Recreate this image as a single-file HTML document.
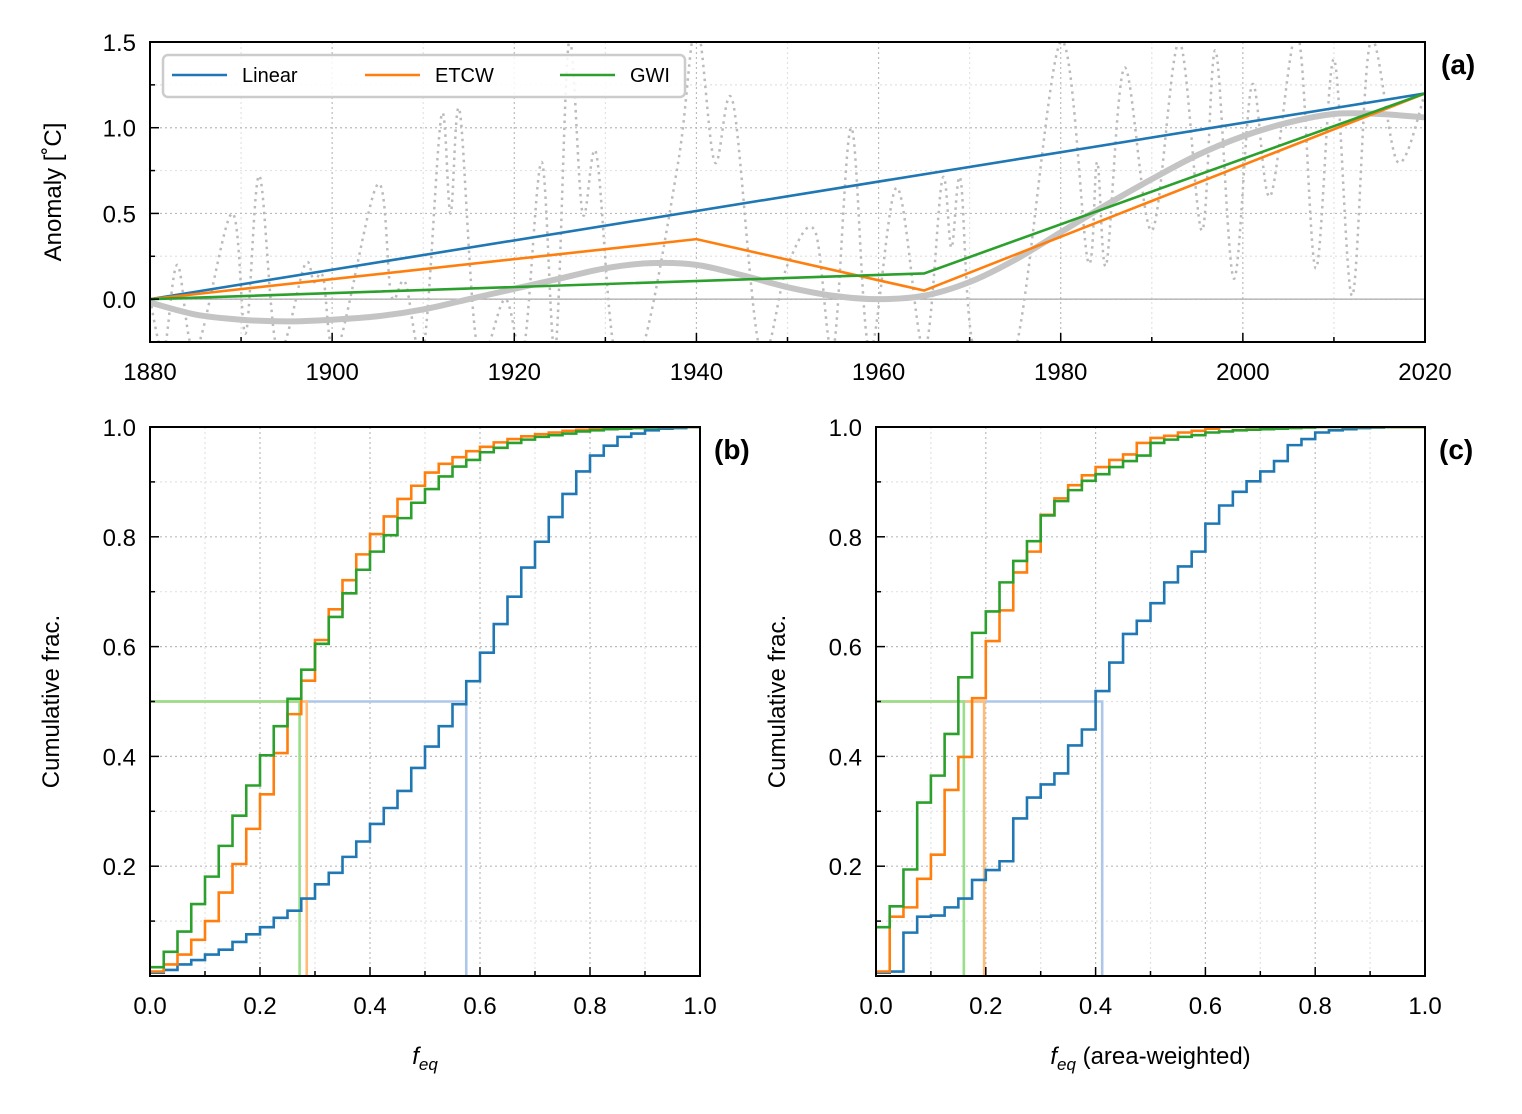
<!DOCTYPE html>
<html><head><meta charset="utf-8"><style>
html,body{margin:0;padding:0;background:#fff}
svg text{font-family:"Liberation Sans",Arial,sans-serif;fill:#000}
</style></head><body>
<svg id="fig" xmlns="http://www.w3.org/2000/svg" width="1522" height="1109" viewBox="0 0 1522 1109"></svg>
<script>
// ---------- DATA ----------
const linYears=[1880,2020], linVals=[0,1.2];
const etcwYears=[1880,1940,1965,2020], etcwVals=[0,0.35,0.05,1.2];
const gwiYears=[1880,1965,2020], gwiVals=[0,0.15,1.2];
const smoothYears=[1880,1885,1890,1895,1900,1905,1910,1915,1920,1925,1930,1935,1940,1945,1950,1955,1960,1965,1970,1975,1980,1985,1990,1995,2000,2005,2010,2015,2020];
const smoothVals=[-0.02,-0.09,-0.12,-0.13,-0.12,-0.1,-0.06,0.0,0.06,0.12,0.18,0.21,0.2,0.14,0.07,0.02,0.0,0.02,0.1,0.23,0.39,0.55,0.7,0.84,0.95,1.03,1.08,1.08,1.06];
const rawYears=[1880,1881.5,1883,1885,1889,1890.5,1892,1894,1897,1898,1899,1900.5,1905,1906.5,1908,1910,1912,1913,1914,1916,1919,1921,1923,1924.5,1926,1927.5,1929,1931,1934,1938,1940,1942,1944,1947,1950,1953,1955,1957,1959,1962,1965,1967,1968,1969,1970.5,1975,1980,1983,1984,1985,1987,1990,1993,1995.5,1997,1999,2001,2003,2006,2008,2010,2012,2014,2017,2020];
const rawVals=[0.0,-0.3,0.2,-0.3,0.5,-0.2,0.72,-0.3,0.2,0.1,0.13,-0.3,0.67,0.02,0.1,-0.3,1.07,0.5,1.1,-0.3,0.0,-0.3,0.8,-0.3,1.5,0.5,0.85,-0.3,-0.3,0.8,1.6,0.8,1.15,-0.3,0.2,0.4,-0.3,1.0,-0.3,0.65,-0.3,0.7,0.3,0.7,-0.3,-0.3,1.5,0.22,0.8,0.2,1.35,0.4,1.5,0.4,1.45,0.12,1.25,0.6,1.55,0.18,1.4,0.02,1.5,0.8,1.2];
const aXTicks=[1880,1900,1920,1940,1960,1980,2000,2020];
const aYTicks=[0.0,0.5,1.0,1.5];
const binWidth=0.025;
const bLinear=[0.006,0.011,0.021,0.029,0.039,0.048,0.062,0.076,0.089,0.106,0.119,0.141,0.167,0.188,0.217,0.245,0.277,0.306,0.337,0.379,0.418,0.455,0.495,0.537,0.589,0.641,0.691,0.744,0.791,0.836,0.878,0.919,0.948,0.966,0.982,0.988,0.994,0.997,0.998,1.0];
const bEtcw=[0.008,0.021,0.039,0.066,0.100,0.152,0.204,0.268,0.331,0.406,0.477,0.538,0.612,0.668,0.721,0.768,0.805,0.837,0.869,0.893,0.917,0.933,0.945,0.956,0.964,0.972,0.978,0.983,0.987,0.990,0.993,0.995,0.997,0.998,0.999,1,1,1,1,1];
const bGwi=[0.016,0.044,0.081,0.131,0.181,0.237,0.292,0.347,0.402,0.455,0.505,0.558,0.605,0.654,0.697,0.740,0.773,0.803,0.834,0.862,0.887,0.910,0.928,0.940,0.954,0.962,0.971,0.977,0.982,0.985,0.988,0.992,0.994,0.996,0.997,0.998,0.999,1,1,1];
const cLinear=[0.006,0.008,0.079,0.108,0.110,0.125,0.141,0.175,0.193,0.209,0.287,0.325,0.349,0.369,0.420,0.449,0.519,0.571,0.623,0.647,0.679,0.717,0.746,0.773,0.824,0.857,0.882,0.901,0.919,0.938,0.967,0.978,0.990,0.994,0.996,0.998,0.999,1,1,1];
const cEtcw=[0.008,0.108,0.125,0.177,0.221,0.339,0.399,0.506,0.610,0.666,0.735,0.773,0.840,0.870,0.894,0.912,0.927,0.940,0.950,0.971,0.980,0.984,0.990,0.993,0.997,1,1,1,1,1,1,1,1,1,1,1,1,1,1,1];
const cGwi=[0.089,0.127,0.194,0.316,0.365,0.441,0.544,0.625,0.664,0.717,0.756,0.792,0.839,0.865,0.885,0.902,0.914,0.927,0.938,0.948,0.971,0.977,0.982,0.985,0.990,0.992,0.994,0.995,0.996,0.997,0.998,0.999,1,1,1,1,1,1,1,1];
const bMedians=[0.575,0.285,0.272];
const cMedians=[0.412,0.197,0.160];
const fTicks=[0.0,0.2,0.4,0.6,0.8,1.0];
const cumTicks=[0.2,0.4,0.6,0.8,1.0];

// ---------- HELPERS ----------
const NS="http://www.w3.org/2000/svg";
const svg=document.getElementById('fig');
function mk(tag,attrs,parent){const e=document.createElementNS(NS,tag);for(const k in attrs)e.setAttribute(k,attrs[k]);(parent||svg).appendChild(e);return e;}
const C={blue:'#1f77b4',orange:'#ff7f0e',green:'#2ca02c',lb:'#aec7e8',lo:'#ffbb78',lg:'#98df8a'};
const FS=24;

function smoothPath(pts){
  let d='M'+pts[0][0]+','+pts[0][1];
  for(let i=0;i<pts.length-1;i++){
    const p0=pts[i-1]||pts[i],p1=pts[i],p2=pts[i+1],p3=pts[i+2]||p2;
    const c1=[p1[0]+(p2[0]-p0[0])/6,p1[1]+(p2[1]-p0[1])/6];
    const c2=[p2[0]-(p3[0]-p1[0])/6,p2[1]-(p3[1]-p1[1])/6];
    d+=' C'+c1[0]+','+c1[1]+' '+c2[0]+','+c2[1]+' '+p2[0]+','+p2[1];
  }
  return d;
}

// ---------- PANEL A ----------
const A={x0:150,x1:1425,y0:42,y1:342,xmin:1880,xmax:2020,ymin:-0.25,ymax:1.5};
const ax=v=>A.x0+(v-A.xmin)/(A.xmax-A.xmin)*(A.x1-A.x0);
const ay=v=>A.y1-(v-A.ymin)/(A.ymax-A.ymin)*(A.y1-A.y0);
const gA=mk('g',{});


mk('defs',{}).innerHTML='<clipPath id="clipA"><rect x="150" y="42" width="1275" height="300"/></clipPath><clipPath id="clipB"><rect x="150" y="427" width="550" height="549"/></clipPath><clipPath id="clipC"><rect x="876" y="427" width="549" height="549"/></clipPath>';
for(let yr=1890;yr<2020;yr+=10){const x=ax(yr);const major=(yr%20===0);
  mk('line',{x1:x,x2:x,y1:A.y0,y2:A.y1,stroke:major?'#bbb':'#e2e2e2','stroke-width':1.2,'stroke-dasharray':'2,3'},gA);}
for(let v=0;v<1.5;v+=0.25){const y=ay(v);const major=(Math.abs(v*2-Math.round(v*2))<1e-6);
  mk('line',{x1:A.x0,x2:A.x1,y1:y,y2:y,stroke:major?'#bbb':'#e2e2e2','stroke-width':1.2,'stroke-dasharray':'2,3'},gA);}
const clA=mk('g',{'clip-path':'url(#clipA)'},gA);
mk('line',{x1:A.x0,x2:A.x1,y1:ay(0),y2:ay(0),stroke:'#aaa','stroke-width':1.2},clA);
const raw=mk('path',{d:smoothPath(rawYears.map((y,i)=>[ax(y),ay(rawVals[i])])),fill:'none',stroke:'#bbb','stroke-width':2.5,'stroke-dasharray':'2.5,4.5'},clA);


const sm=mk('path',{d:smoothPath(smoothYears.map((y,i)=>[ax(y),ay(smoothVals[i])])),fill:'none',stroke:'#c4c4c4','stroke-width':6},clA);


[[linYears,linVals,C.blue,'linear-line'],[etcwYears,etcwVals,C.orange,'etcw-line'],[gwiYears,gwiVals,C.green,'gwi-line']].forEach(s=>{
  const p=mk('polyline',{points:s[0].map((y,i)=>ax(y)+','+ay(s[1][i])).join(' '),fill:'none',stroke:s[2],'stroke-width':2.6},clA);
  
  
});
for(let yr=1880;yr<=2020;yr+=10){const x=ax(yr);const major=(yr%20===0);
  mk('line',{x1:x,x2:x,y1:A.y1,y2:A.y1-(major?9:5),stroke:'#000','stroke-width':1.5},gA);}
aXTicks.forEach(t=>{const tx=mk('text',{x:ax(t),y:A.y1+38,'text-anchor':'middle','font-size':FS},gA);tx.textContent=t;
  
  });
for(let v=-0.25;v<=1.5;v+=0.25){const y=ay(v);const major=(Math.abs(v*2-Math.round(v*2))<1e-6);
  mk('line',{x1:A.x0,x2:A.x0+(major?9:5),y1:y,y2:y,stroke:'#000','stroke-width':1.5},gA);}
aYTicks.forEach(t=>{const tx=mk('text',{x:A.x0-14,y:ay(t)+9,'text-anchor':'end','font-size':FS},gA);tx.textContent=t.toFixed(1);
  
  });
mk('rect',{x:A.x0,y:A.y0,width:A.x1-A.x0,height:A.y1-A.y0,fill:'none',stroke:'#000','stroke-width':2},gA);
const yl=mk('text',{x:0,y:0,transform:'translate(61,192) rotate(-90)','text-anchor':'middle','font-size':FS},gA);
yl.textContent='Anomaly [˚C]';


const la=mk('text',{x:1441,y:74,'font-size':28,'font-weight':'bold'},gA);la.textContent='(a)';


const lg=mk('g',{},gA);


mk('rect',{x:163,y:55,width:522,height:42,rx:5,fill:'#fff','fill-opacity':0.85,stroke:'#ccc','stroke-width':2.5},lg);
[[172,'Linear',C.blue],[365,'ETCW',C.orange],[560,'GWI',C.green]].forEach(e=>{
  const g=mk('g',{},lg);
  
  
  mk('line',{x1:e[0],x2:e[0]+55,y1:75,y2:75,stroke:e[2],'stroke-width':2.6},g);
  const t=mk('text',{x:e[0]+70,y:82,'font-size':20},g);t.textContent=e[1];
});

// ---------- CDF PANELS ----------
function cdfPanel(P,series,medians,label,xtitle,name,clip){
  const px=v=>P.x0+v*(P.x1-P.x0), py=v=>P.y1-v*(P.y1-P.y0);
  const g=mk('g',{});
  
  
  for(let i=1;i<10;i++){const v=i/10;const major=i%2===0;
    mk('line',{x1:px(v),x2:px(v),y1:P.y0,y2:P.y1,stroke:major?'#bbb':'#e2e2e2','stroke-width':1.2,'stroke-dasharray':'2,3'},g);
    mk('line',{x1:P.x0,x2:P.x1,y1:py(v),y2:py(v),stroke:major?'#bbb':'#e2e2e2','stroke-width':1.2,'stroke-dasharray':'2,3'},g);}
  const cg=mk('g',{'clip-path':'url(#'+clip+')'},g);
  const light=[C.lb,C.lo,C.lg], dark=[C.blue,C.orange,C.green], nm=['linear','etcw','gwi'];
  medians.forEach((m,i)=>{
    const p=mk('polyline',{points:px(0)+','+py(0.5)+' '+px(m)+','+py(0.5)+' '+px(m)+','+py(0),fill:'none',stroke:light[i],'stroke-width':2.6},cg);
    
    
  });
  series.forEach((s,i)=>{
    let pts=[];
    s.forEach((v,k)=>{pts.push(px(k*binWidth)+','+py(v));pts.push(px((k+1)*binWidth)+','+py(v));});
    const p=mk('polyline',{points:pts.join(' '),fill:'none',stroke:dark[i],'stroke-width':2.6},cg);
    
    
  });
  for(let i=0;i<=10;i++){const v=i/10;const major=i%2===0;
    mk('line',{x1:px(v),x2:px(v),y1:P.y1,y2:P.y1-(major?9:5),stroke:'#000','stroke-width':1.5},g);
    mk('line',{x1:P.x0,x2:P.x0+(major?9:5),y1:py(v),y2:py(v),stroke:'#000','stroke-width':1.5},g);}
  fTicks.forEach(t=>{const tx=mk('text',{x:px(t),y:P.y1+38,'text-anchor':'middle','font-size':FS},g);tx.textContent=t.toFixed(1);
    
    });
  cumTicks.forEach(t=>{const tx=mk('text',{x:P.x0-14,y:py(t)+9,'text-anchor':'end','font-size':FS},g);tx.textContent=t.toFixed(1);
    
    });
  mk('rect',{x:P.x0,y:P.y0,width:P.x1-P.x0,height:P.y1-P.y0,fill:'none',stroke:'#000','stroke-width':2},g);
  const yt=mk('text',{x:0,y:0,transform:'translate('+(P.x0-91)+','+((P.y0+P.y1)/2)+') rotate(-90)','text-anchor':'middle','font-size':FS},g);
  yt.textContent='Cumulative frac.';
  
  
  const xt=mk('text',{x:(P.x0+P.x1)/2,y:1064,'text-anchor':'middle','font-size':FS},g);
  xt.innerHTML='<tspan font-style="italic">f</tspan><tspan font-style="italic" font-size="17" dy="6">eq</tspan><tspan dy="-6">'+xtitle+'</tspan>';
  
  
  const lb=mk('text',{x:P.x1+14,y:P.y0+32,'font-size':28,'font-weight':'bold'},g);lb.textContent=label;
  
  
}
cdfPanel({x0:150,x1:700,y0:427,y1:976},[bLinear,bEtcw,bGwi],bMedians,'(b)','','panel-b','clipB');
cdfPanel({x0:876,x1:1425,y0:427,y1:976},[cLinear,cEtcw,cGwi],cMedians,'(c)',' (area-weighted)','panel-c','clipC');
</script>
</body></html>
